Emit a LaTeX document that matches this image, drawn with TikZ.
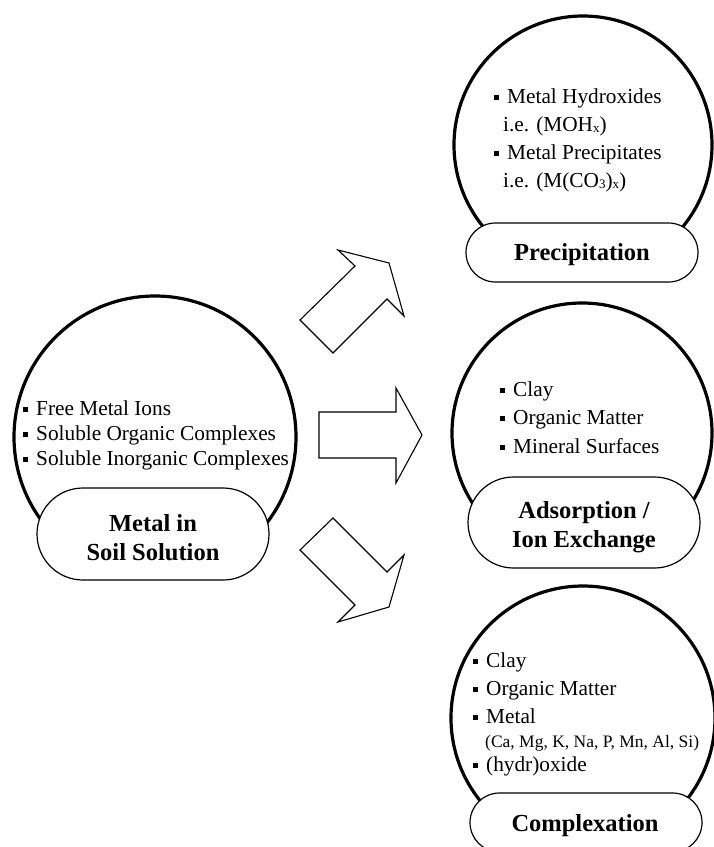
\documentclass[tikz,border=0pt]{standalone}
\usepackage{fontspec}
\setmainfont{Liberation Serif}
\usetikzlibrary{shapes.misc}
\newcommand{\sqbul}{\rule[3.5pt]{5pt}{5pt}\hspace{8pt}}
\newcommand{\smallsub}[1]{\raisebox{-1.5pt}{\fontsize{13}{13}\selectfont #1}}
\begin{document}
\begin{tikzpicture}[x=1pt,y=-1pt,
  bigcirc/.style={circle,draw,line width=3.2pt,inner sep=0pt},
  oval/.style={rounded rectangle,draw,line width=1.2pt,fill=white,minimum width=232pt,inner sep=0pt},
  title/.style={anchor=base,inner sep=0pt,font=\fontsize{24.5}{29}\selectfont\bfseries},
  item/.style={anchor=base west,inner sep=0pt,font=\fontsize{21.3}{25}\selectfont},
  smallitem/.style={anchor=base west,inner sep=0pt,font=\fontsize{17.5}{21}\selectfont},
  blockarrow/.style={draw,line width=1.1pt,line join=miter}]
\useasboundingbox (0,0) rectangle (714,847);
\clip (0,0) rectangle (714,847);
% circles
\node[bigcirc,minimum size=282pt] (cL) at (155,437) {};
\node[bigcirc,minimum size=258pt] (cP) at (583,145) {};
\node[bigcirc,minimum size=260pt] (cA) at (582,433) {};
\node[bigcirc,minimum size=264pt] (cC) at (583,718) {};
% ovals
\node[oval,minimum height=59pt] (oP) at (582,252.5) {};
\node[oval,minimum height=92pt] (oL) at (153,534) {};
\node[oval,minimum height=91pt] (oA) at (584,522.5) {};
\node[oval,minimum height=59pt] (oC) at (586,822.5) {};
% titles
\node[title] (tL1) at (153,531) {Metal in};
\node[title] (tL2) at (153,560) {Soil Solution};
\node[title] (tP) at (582,260) {Precipitation};
\node[title] (tA1) at (584,518) {Adsorption /};
\node[title] (tA2) at (584,547) {Ion Exchange};
\node[title] (tC) at (585,831) {Complexation};
% left list
\node[item] (l1) at (23,415) {\sqbul Free Metal Ions};
\node[item] (l2) at (23,440) {\sqbul Soluble Organic Complexes};
\node[item] (l3) at (23,465) {\sqbul Soluble Inorganic Complexes};
% top list
\node[item] (p1) at (494,103) {\sqbul Metal Hydroxides};
\node[item] (p2) at (503,131) {i.e. (MOH\smallsub{x})};
\node[item] (p3) at (494,159) {\sqbul Metal Precipitates};
\node[item] (p4) at (503,187) {i.e. (M(CO\smallsub{3})\smallsub{x})};
% middle list
\node[item] (a1) at (500,396) {\sqbul Clay};
\node[item] (a2) at (500,424) {\sqbul Organic Matter};
\node[item] (a3) at (500,453) {\sqbul Mineral Surfaces};
% bottom list
\node[item] (c1) at (473,667) {\sqbul Clay};
\node[item] (c2) at (473,695) {\sqbul Organic Matter};
\node[item] (c3) at (473,723) {\sqbul Metal};
\node[smallitem] (c4) at (485,747) {(Ca, Mg, K, Na, P, Mn, Al, Si)};
\node[item] (c5) at (473,771) {\sqbul (hydr)oxide};
% block arrows
\draw[blockarrow] (300,320) -- (333,353) -- (387,299) -- (404,316) -- (389,263) -- (338,250) -- (355,266) -- cycle;
\draw[blockarrow] (319,412) -- (396,412) -- (396,388) -- (422,435) -- (396,483) -- (396,458) -- (319,458) -- cycle;
\draw[blockarrow] (300,550) -- (333,518) -- (387,572) -- (404,555) -- (389,607) -- (338,622) -- (355,605) -- cycle;
\end{tikzpicture}
\end{document}
